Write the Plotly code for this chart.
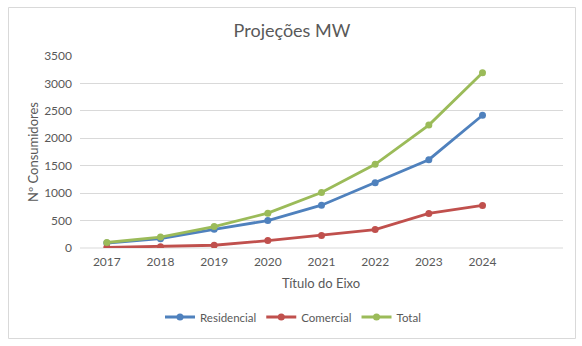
import plotly.graph_objects as go

years = [2017, 2018, 2019, 2020, 2021, 2022, 2023, 2024]
residencial = [90, 170, 340, 500, 780, 1190, 1610, 2420]
comercial = [10, 25, 50, 135, 230, 335, 630, 775]
total = [100, 200, 390, 635, 1010, 1525, 2240, 3195]
y_ticks = [0, 500, 1000, 1500, 2000, 2500, 3000, 3500]

W, H = 582, 346
L, R, T, B = 80, 19, 56, 98
pw, ph = W - L - R, H - T - B

def px(x):
    return (x - L) / pw

def py(y):
    return (H - B - y) / ph

fig = go.Figure()
series = [("Residencial", residencial, "#4F81BD"),
          ("Comercial", comercial, "#C0504D"),
          ("Total", total, "#9BBB59")]
for name, vals, col in series:
    fig.add_trace(go.Scatter(x=years, y=vals, name=name, mode="lines+markers",
                             line=dict(color=col, width=2.8),
                             marker=dict(color=col, size=7)))

font = "Lato, 'Open Sans', sans-serif"
fig.update_layout(
    width=W, height=H,
    margin=dict(l=L, r=R, t=T, b=B),
    paper_bgcolor="white", plot_bgcolor="white",
    font=dict(family=font, color="#595959", size=12),
    title=dict(text="Projeções MW", x=292 / W, xanchor="center",
               y=1 - 31 / H, yanchor="middle",
               font=dict(size=18, color="#595959", family=font)),
    xaxis=dict(range=[2016.5, 2025.5], tickvals=years, ticktext=[str(y) for y in years],
               showgrid=False, zeroline=False, showline=False, ticks="",
               ticklabelstandoff=5,
               tickfont=dict(size=12, color="#595959")),
    yaxis=dict(range=[0, 3500], tickvals=y_ticks, showgrid=True, gridcolor="#D9D9D9",
               gridwidth=1, zeroline=False, showline=False, ticks="",
               ticklabelstandoff=7,
               tickfont=dict(size=12, color="#595959")),
    legend=dict(orientation="h", x=px(293), xanchor="center", y=py(317), yanchor="middle",
                font=dict(size=11.5, color="#595959"), itemwidth=30, traceorder="normal"),
    showlegend=True,
)

fig.add_annotation(text="Título do Eixo", xref="paper", yref="paper", x=px(321), y=py(283),
                   xanchor="center", yanchor="middle", showarrow=False,
                   font=dict(size=13, color="#595959", family=font))
fig.add_annotation(text="Nº Consumidores", xref="paper", yref="paper", x=px(33), y=py(152),
                   xanchor="center", yanchor="middle", showarrow=False, textangle=-90,
                   font=dict(size=13, color="#595959", family=font))

fig.add_shape(type="line", xref="paper", yref="paper", x0=0, x1=1, y0=0, y1=0,
              line=dict(color="#D9D9D9", width=1), layer="below")
fig.add_shape(type="rect", xref="paper", yref="paper",
              x0=px(8.5), x1=px(575.5), y0=py(7.5), y1=py(338.5),
              line=dict(color="#D9D9D9", width=1), fillcolor="rgba(0,0,0,0)")

fig.write_html("out.html")
